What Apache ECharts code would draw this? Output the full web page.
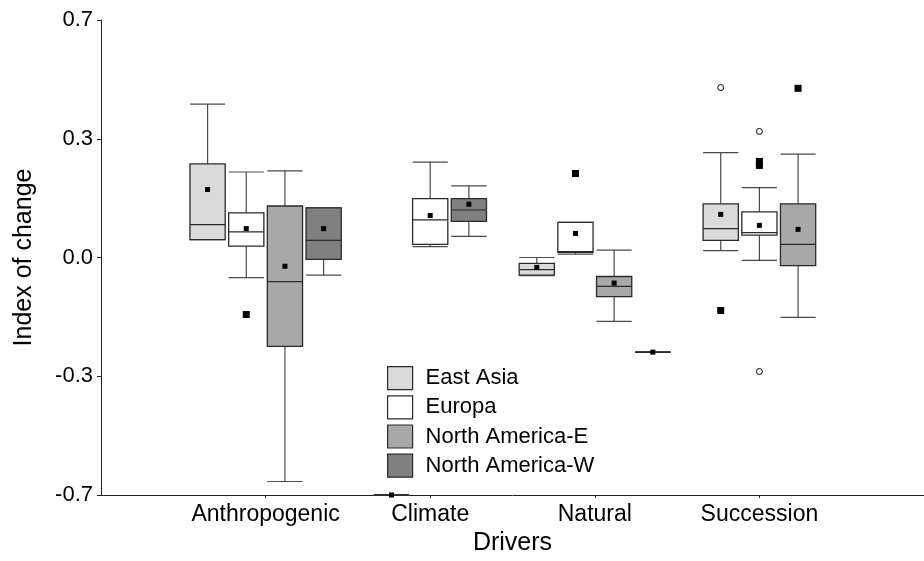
<!DOCTYPE html>
<html>
<head>
<meta charset="utf-8">
<title>Index of change by driver</title>
<script src="https://cdn.jsdelivr.net/npm/echarts@6/dist/echarts.min.js"></script>
<style>
  html, body { margin: 0; padding: 0; background: #fff; }
  #chart { width: 924px; height: 561px; }
</style>
</head>
<body>
<div id="chart"></div>
<script>
// Drivers on the x axis
const categories = ['Anthropogenic', 'Climate', 'Natural', 'Succession'];
const regions = ['East Asia', 'Europa', 'North America-E', 'North America-W'];

// Box summaries per driver: [lower whisker, Q1, median, Q3, upper whisker]; null = no data
const eastAsiaBoxes = [
  [0.049, 0.049, 0.090, 0.256, 0.420],
  [-0.650, -0.650, -0.650, -0.650, -0.650],
  [-0.050, -0.048, -0.033, -0.016, 0.000],
  [0.019, 0.047, 0.079, 0.147, 0.287]
];
const europaBoxes = [
  [-0.055, 0.031, 0.070, 0.122, 0.234],
  [0.030, 0.036, 0.103, 0.161, 0.261],
  [0.009, 0.014, 0.016, 0.096, 0.096],
  [-0.008, 0.061, 0.068, 0.125, 0.191]
];
const naEastBoxes = [
  [-0.613, -0.243, -0.066, 0.141, 0.237],
  null,
  [-0.175, -0.107, -0.079, -0.052, 0.020],
  [-0.164, -0.022, 0.036, 0.147, 0.283]
];
const naWestBoxes = [
  [-0.048, -0.005, 0.047, 0.136, 0.136],
  [0.058, 0.099, 0.130, 0.161, 0.196],
  [-0.259, -0.259, -0.259, -0.259, -0.259],
  null
];

// Means per driver
const eastAsiaMeans = [0.186, -0.650, -0.027, 0.118];
const europaMeans = [0.079, 0.115, 0.066, 0.088];
const naEastMeans = [-0.024, null, -0.070, 0.077];
const naWestMeans = [0.079, 0.146, -0.259, null];

// Outliers (open circles) and extremes (filled squares): [driver index, region index, value]
const outliers = [[3, 0, 0.465], [3, 1, 0.345], [3, 1, -0.312]];
const extremes = [[0, 1, -0.156], [2, 1, 0.230], [3, 0, -0.145], [3, 1, 0.263], [3, 1, 0.252], [3, 2, 0.463]];

// Y axis tick labels shown with one decimal
const yTickMin = -0.65, yTickMax = 0.65, yTickStep = 0.325;

const boxesByRegion = [eastAsiaBoxes, europaBoxes, naEastBoxes, naWestBoxes];
const meansByRegion = [eastAsiaMeans, europaMeans, naEastMeans, naWestMeans];
const fills = ['#dadada', '#ffffff', '#a8a8a8', '#808080'];

const SLOT = 0.235;   // distance between neighbouring boxes, in x units
const BOX_W = 0.214;  // box width, in x units

// Boxes present in a driver are centred around its tick
function slotOf(cat, region) {
  const present = [];
  boxesByRegion.forEach((b, r) => { if (b[cat]) present.push(r); });
  return present.indexOf(region) - (present.length - 1) / 2;
}

function renderBox(params, api) {
  const x = api.value(0) + api.value(1) * SLOT;
  const half = api.size([BOX_W, 0])[0] / 2;
  const cx = api.coord([x, 0])[0];
  const y = v => api.coord([x, v])[1];
  const yLow = y(api.value(2)), yQ1 = y(api.value(3)), yMed = y(api.value(4));
  const yQ3 = y(api.value(5)), yHigh = y(api.value(6)), yMean = y(api.value(7));
  const whisker = { stroke: '#4a4a4a', lineWidth: 1.2 };
  const edge = '#2a2a2a';
  return {
    type: 'group',
    children: [
      { type: 'line', shape: { x1: cx, y1: yLow, x2: cx, y2: yQ1 }, style: whisker },
      { type: 'line', shape: { x1: cx, y1: yQ3, x2: cx, y2: yHigh }, style: whisker },
      { type: 'line', shape: { x1: cx - half, y1: yLow, x2: cx + half, y2: yLow }, style: whisker },
      { type: 'line', shape: { x1: cx - half, y1: yHigh, x2: cx + half, y2: yHigh }, style: whisker },
      { type: 'rect', shape: { x: cx - half, y: yQ3, width: 2 * half, height: yQ1 - yQ3 },
        style: { fill: fills[params.seriesIndex], stroke: edge, lineWidth: 1.3 } },
      { type: 'line', shape: { x1: cx - half, y1: yMed, x2: cx + half, y2: yMed },
        style: { stroke: edge, lineWidth: 1.2 } },
      { type: 'rect', shape: { x: cx - 2.5, y: yMean - 2.5, width: 5, height: 5 },
        style: { fill: '#000' } }
    ]
  };
}

const boxSeries = regions.map((name, r) => ({
  name: name,
  type: 'custom',
  renderItem: renderBox,
  itemStyle: { color: fills[r], borderColor: '#2a2a2a' },
  encode: { x: 0, y: [2, 3, 4, 5, 6] },
  data: boxesByRegion[r].map((b, c) => b ? [c + 1, slotOf(c, r)].concat(b, [meansByRegion[r][c]]) : null)
    .filter(d => d)
}));

const pointX = (c, r) => c + 1 + slotOf(c, r) * SLOT;
const categoryTicks = categories.map((_, i) => i + 1);

const font = 'Liberation Sans, Arial, sans-serif';

const option = {
  animation: false,
  backgroundColor: '#fff',
  grid: { left: 101, right: -9, top: 20, bottom: 66 },
  legend: {
    orient: 'vertical',
    left: 387,
    top: 366,
    padding: 0,
    itemWidth: 25,
    itemHeight: 23,
    itemGap: 5,
    selectedMode: false,
    textStyle: { fontFamily: font, fontSize: 22, color: '#000', lineHeight: 23, padding: [0, 0, 0, 8] },
    data: regions.map((name, r) => ({
      name: name,
      icon: 'rect',
      itemStyle: { color: fills[r], borderColor: '#2a2a2a', borderWidth: 1.2 }
    }))
  },
  xAxis: {
    type: 'value',
    min: 0,
    max: 5,
    interval: 1,
    name: 'Drivers',
    nameLocation: 'middle',
    nameGap: 36,
    nameTextStyle: { fontFamily: font, fontSize: 25, color: '#000' },
    splitLine: { show: false },
    axisLine: { show: true, onZero: false, lineStyle: { color: '#222', width: 1 } },
    axisTick: { show: true, inside: false, length: 3, customValues: categoryTicks, lineStyle: { color: '#222' } },
    axisLabel: {
      fontFamily: font, fontSize: 23, color: '#000', margin: 8,
      customValues: categoryTicks,
      formatter: v => categories[v - 1] || ''
    }
  },
  yAxis: {
    type: 'value',
    min: yTickMin,
    max: yTickMax,
    interval: yTickStep,
    name: 'Index of change',
    nameLocation: 'middle',
    nameGap: 64,
    nameTextStyle: { fontFamily: font, fontSize: 25, color: '#000' },
    splitLine: { show: false },
    axisLine: { show: true, onZero: false, lineStyle: { color: '#222', width: 1 } },
    axisTick: { show: true, inside: false, length: 4, lineStyle: { color: '#222' } },
    axisLabel: {
      fontFamily: font, fontSize: 22, color: '#000', margin: 8,
      formatter: v => v.toFixed(1)
    }
  },
  series: boxSeries.concat([
    {
      name: 'outliers',
      type: 'scatter',
      symbol: 'circle',
      symbolSize: 6,
      itemStyle: { color: '#fff', borderColor: '#000', borderWidth: 1, opacity: 1 },
      z: 5,
      data: outliers.map(([c, r, v]) => [pointX(c, r), v])
    },
    {
      name: 'extremes',
      type: 'scatter',
      symbol: 'rect',
      symbolSize: 7,
      itemStyle: { color: '#000', opacity: 1 },
      z: 5,
      data: extremes.map(([c, r, v]) => [pointX(c, r), v])
    }
  ])
};

const chart = echarts.init(document.getElementById('chart'), null, { renderer: 'canvas' });
chart.setOption(option);
</script>
</body>
</html>
